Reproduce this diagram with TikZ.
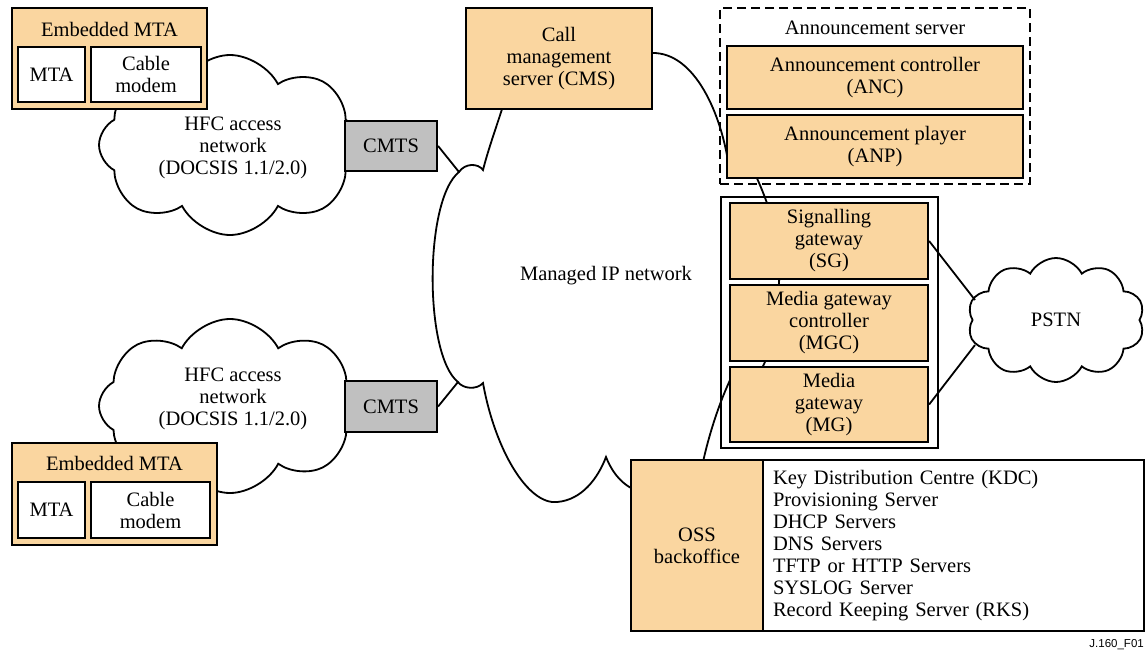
\documentclass[tikz,border=0pt]{standalone}
\usepackage{fontspec}
\setmainfont{Liberation Serif}
\newfontfamily\figsans{Liberation Sans}
\usetikzlibrary{shapes.symbols}
\definecolor{boxorange}{RGB}{250,214,160}
\definecolor{boxgray}{RGB}{192,192,192}
\tikzset{
  base/.style={font=\fontsize{20.5}{22}\selectfont, align=center, inner sep=0pt},
  obox/.style={base, draw, line width=2.2pt, fill=boxorange, rectangle},
  wbox/.style={base, draw, line width=2.2pt, fill=white, rectangle},
  gbox/.style={base, draw, line width=2.2pt, fill=boxgray, rectangle},
  frame/.style={draw, line width=2pt, inner sep=0pt, rectangle},
  dframe/.style={draw, line width=2pt, dash pattern=on 9pt off 5pt, inner sep=0pt, rectangle},
  netcloud/.style={cloud, draw, line width=1.8pt, cloud puffs=8, cloud puff arc=125, cloud ignores aspect, inner sep=0pt},
  conn/.style={line width=1.8pt},
  lbl/.style={base}
}
\begin{document}
\begin{tikzpicture}[x=1pt,y=-1pt]
\useasboundingbox (0,0) rectangle (1147,653);

% clouds
\node[netcloud, minimum width=262pt, minimum height=180pt] (hfc1) at (230,145) {};
\node[netcloud, minimum width=262pt, minimum height=174pt] (hfc2) at (230,406) {};
\node[netcloud, cloud puffs=10, minimum width=177pt, minimum height=124pt] (pstn) at (1056,320) {};
\node[lbl] (pstnt) at (1056,320) {PSTN};

% managed IP network cloud
\draw[conn] (505,100) .. controls (497,125) and (488,150) .. (483,170)
  .. controls (478,163) and (465,163) .. (459,172)
  .. controls (424,200) and (424,355) .. (458,382)
  .. controls (463,389) and (477,390) .. (483,383)
  .. controls (495,450) and (528,505) .. (557,502)
  .. controls (582,500) and (598,478) .. (606,457)
  .. controls (612,472) and (622,486) .. (640,492)
  -- (700,470) -- (703,462)
  .. controls (710,430) and (722,395) .. (734,372) -- (762,368)
  .. controls (772,350) and (777,320) .. (779,282)
  .. controls (782,245) and (770,205) .. (754,172) -- (729,168)
  .. controls (722,115) and (695,52) .. (652,53) -- (600,60) -- cycle;
\node[lbl] (ipt) at (606,276) {Managed IP network};
\coordinate (ipA) at (459,172);
\coordinate (ipB) at (458,382);
\coordinate (pstnA) at (975,300);
\coordinate (pstnB) at (975,345);

% HFC texts
\node[lbl] (hfc1t) at (233,148) {HFC access\\network\\(DOCSIS 1.1/2.0)};
\node[lbl] (hfc2t) at (233,399) {HFC access\\network\\(DOCSIS 1.1/2.0)};

% embedded MTA top
\node[obox, minimum width=195pt, minimum height=101pt] (mta1) at (109.5,58.5) {};
\node[lbl] (mta1t) at (109.5,29) {Embedded MTA};
\node[wbox, minimum width=67pt, minimum height=55pt] (mta1a) at (51.5,74.5) {MTA};
\node[wbox, minimum width=110pt, minimum height=55pt] (cm1) at (146,74.5) {Cable\\modem};

% embedded MTA bottom
\node[obox, minimum width=205pt, minimum height=102pt] (mta2) at (114.5,494) {};
\node[lbl] (mta2t) at (114.5,463) {Embedded MTA};
\node[wbox, minimum width=67pt, minimum height=56pt] (mta2a) at (51.5,510) {MTA};
\node[wbox, minimum width=119pt, minimum height=56pt] (cm2) at (150.5,510) {Cable\\modem};

% CMTS
\node[gbox, minimum width=92pt, minimum height=50pt] (cmts1) at (391,146) {CMTS};
\node[gbox, minimum width=92pt, minimum height=51pt] (cmts2) at (391,406.5) {CMTS};

% CMS
\node[obox, minimum width=186pt, minimum height=101pt] (cms) at (559,58.5) {Call\\management\\server (CMS)};

% announcement server
\node[dframe, minimum width=310pt, minimum height=176pt] (annf) at (875,96) {};
\node[lbl] (annt) at (875,28) {Announcement server};
\node[obox, minimum width=296pt, minimum height=63pt] (anc) at (875,77.5) {Announcement controller\\(ANC)};
\node[obox, minimum width=296pt, minimum height=63pt] (anp) at (875,146.5) {Announcement player\\(ANP)};

% gateways
\node[frame, minimum width=217pt, minimum height=251pt] (gwf) at (829.5,322.5) {};
\node[obox, minimum width=198pt, minimum height=76pt] (sg) at (829,241) {Signalling\\gateway\\(SG)};
\node[obox, minimum width=198pt, minimum height=76pt] (mgc) at (829,323) {Media gateway\\controller\\(MGC)};
\node[obox, minimum width=198pt, minimum height=75pt] (mg) at (829,404.5) {Media\\gateway\\(MG)};

% OSS
\node[obox, minimum width=132pt, minimum height=171pt] (oss) at (697,545.5) {OSS\\backoffice};
\node[wbox, minimum width=381pt, minimum height=171pt, text width=361pt, inner xsep=10pt, align=left] (list) at (953.5,545.5)
 {Key Distribution Centre (KDC)\\Provisioning Server\\DHCP Servers\\DNS Servers\\TFTP or HTTP Servers\\SYSLOG Server\\Record Keeping Server (RKS)};

% connectors
\draw[conn] (cmts1.east) -- (ipA);
\draw[conn] (cmts2.east) -- (ipB);
\draw[conn] (sg.east) -- (pstnA);
\draw[conn] (mg.east) -- (pstnB);

\node[font=\figsans\fontsize{11.5}{13}\selectfont, anchor=east, inner sep=0pt] (figid) at (1144,645) {J.160\_F01};
\end{tikzpicture}
\end{document}
